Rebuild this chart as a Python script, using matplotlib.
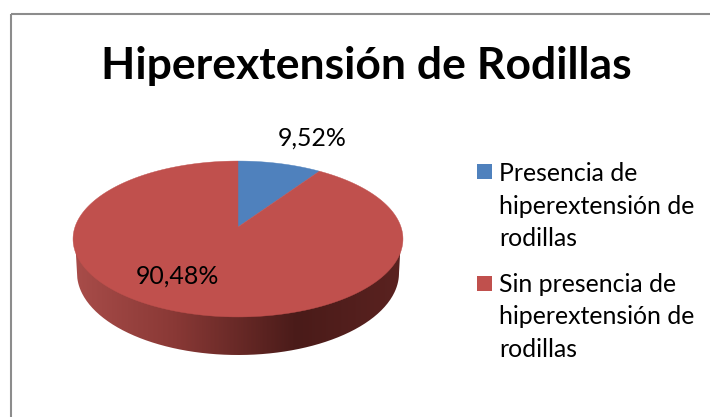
import numpy as np
import matplotlib
matplotlib.use("Agg")
import matplotlib.pyplot as plt
from matplotlib.patches import PathPatch, Rectangle
from matplotlib.path import Path
from matplotlib.transforms import Affine2D
from matplotlib.colors import LinearSegmentedColormap

title = "Hiperextensión de Rodillas"
categories = ["Presencia de\nhiperextensión de\nrodillas",
              "Sin presencia de\nhiperextensión de\nrodillas"]
values = [9.52, 90.48]
value_labels = ["9,52%", "90,48%"]
colors = ["#4F81BD", "#C0504D"]

plt.rcParams['font.family'] = ['Lato', 'DejaVu Sans']
fig = plt.figure(figsize=(7.10, 4.17), dpi=100)
ax = fig.add_axes([0, 0, 1, 1])

wedges, _ = ax.pie(values, colors=colors, startangle=90, counterclock=False, frame=False)
ax.set_aspect('auto')
ax.axis('off')

# tilted, perspective view of the unit pie
def project(xy):
    x, y = xy[:, 0], xy[:, 1]
    d = 1 + 0.1538 * y
    return np.column_stack((238 + 163 * x / d, (227 - 41.2 * y) / d))

# side wall with horizontal shading: straight sides, lower elliptical rim
t = np.linspace(np.pi, 0, 200)
rim = np.column_stack((238 + 161 * np.cos(t), 273 + 82 * np.sin(t)))
wall_pts = np.vstack(([[75, 238]], [[77, 273]], rim, [[401, 238]], [[75, 238]]))
wall = PathPatch(Path(wall_pts), fc='none', ec='none', transform=ax.transData)
ax.add_patch(wall)
wall_cmap = LinearSegmentedColormap.from_list("wall", [
    (0.0, "#A84C49"), (0.3, "#8A3936"), (0.68, "#4A1B19"), (1.0, "#5A2220")])
im = ax.imshow(np.linspace(0, 1, 326)[None, :], extent=(75, 401, 360, 230), cmap=wall_cmap,
               aspect='auto', zorder=1)
im.set_clip_path(wall)
ax.set_xlim(0, 710)
ax.set_ylim(417, 0)

for w, c in zip(wedges, colors):
    fine = w.get_path().transformed(Affine2D().scale(2000))
    poly = fine.to_polygons(closed_only=True)[0] / 2000
    w.remove()
    ax.add_patch(PathPatch(Path(project(poly)), fc=c, ec=c, lw=0.3, zorder=2))

ax.text(312, 138, value_labels[0], ha='center', va='center', fontsize=17.9, color='black', zorder=3)
ax.text(177, 276, value_labels[1], ha='center', va='center', fontsize=17.9, color='black', zorder=3)

ax.text(366, 66, title, ha='center', va='center', fontsize=32, fontweight='bold', color='black')

for y_box, y_text, c, lab in zip([164, 276], [246, 357], colors, categories):
    ax.add_patch(Rectangle((477, y_box), 15, 15, fc=c, ec='none'))
    ax.text(499, y_text, lab, ha='left', va='baseline', fontsize=17.9, linespacing=1.5, color='black')

ax.add_patch(Rectangle((10.5, 13.5), 720, 420, fc='none', ec='#8C8C8C', lw=1.5, zorder=4))

fig.savefig("out.png", dpi=100)
